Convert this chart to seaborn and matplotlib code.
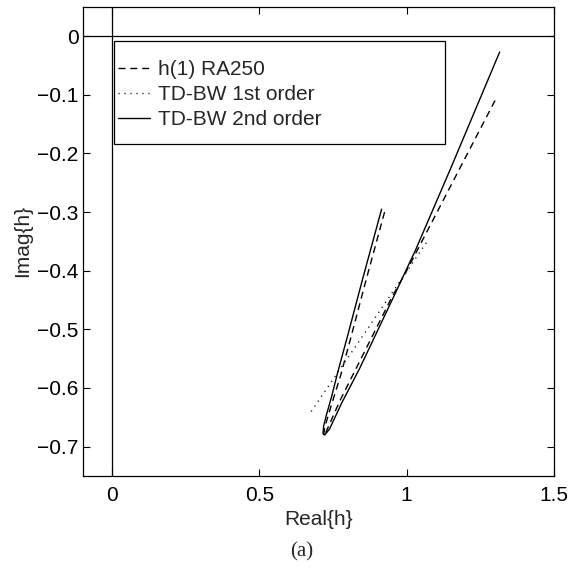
import matplotlib
import matplotlib.pyplot as plt
import numpy as np
import pandas as pd
import seaborn as sns
from matplotlib.patches import Rectangle

matplotlib.use('agg')

# h(1) RA250 (dashed): left branch down to the tip, then right branch up
ra250_real = [0.925, 0.86, 0.81, 0.775, 0.75, 0.733, 0.722, 0.718, 0.720,
              0.735, 0.775, 0.835, 0.95, 1.0, 1.15, 1.303]
ra250_imag = [-0.300, -0.420, -0.515, -0.580, -0.620, -0.648, -0.667, -0.680, -0.682,
              -0.665, -0.620, -0.560, -0.445, -0.400, -0.255, -0.107]

# TD-BW 1st order (dotted)
bw1_real = [0.676, 0.745, 0.85, 0.95, 1.07]
bw1_imag = [-0.640, -0.589, -0.512, -0.438, -0.350]

# TD-BW 2nd order (solid)
bw2_real = [0.915, 0.85, 0.80, 0.765, 0.745, 0.728, 0.718, 0.716, 0.722,
            0.738, 0.78, 0.84, 0.96, 1.03, 1.15, 1.316]
bw2_imag = [-0.295, -0.415, -0.510, -0.575, -0.615, -0.645, -0.665, -0.678, -0.680,
            -0.670, -0.625, -0.567, -0.440, -0.365, -0.225, -0.027]

labels = ['h(1) RA250', 'TD-BW 1st order', 'TD-BW 2nd order']
x_ticks = [0, 0.5, 1, 1.5]
y_ticks = [0, -0.1, -0.2, -0.3, -0.4, -0.5, -0.6, -0.7]

sns.set_theme(style="ticks")
plt.rcParams['font.family'] = ['Liberation Sans', 'DejaVu Sans']
plt.rcParams['axes.unicode_minus'] = True

fig = plt.figure(figsize=(5.83, 5.70), dpi=100)
ax = fig.add_axes([0.142, 0.165, 0.808, 0.823])

# reference axes through the origin
ax.axvline(0, color='black', lw=0.9, zorder=1)
ax.axhline(0, color='black', lw=0.9, zorder=1)

series = [
    (ra250_real, ra250_imag, (5, 3.5)),
    (bw1_real, bw1_imag, (0.8, 3.5)),
    (bw2_real, bw2_imag, None),
]
handles = []
for (xs, ys, dash), lab in zip(series, labels):
    df = pd.DataFrame({'real': xs, 'imag': ys})
    kw = {'dashes': dash} if dash else {'linestyle': '-'}
    sns.lineplot(data=df, x='real', y='imag', sort=False, estimator=None,
                 color='black', lw=1.0, ax=ax, **kw)
    handles.append(ax.lines[-1])

ax.set_xlim(-0.1, 1.5)
ax.set_ylim(-0.75, 0.05)
ax.set_xticks(x_ticks)
ax.set_xticklabels(['0', '0.5', '1', '1.5'])
ax.set_yticks(y_ticks)
ax.set_yticklabels(['0', '\u22120.1', '\u22120.2', '\u22120.3', '\u22120.4',
                    '\u22120.5', '\u22120.6', '\u22120.7'])
ax.tick_params(direction='in', top=True, right=True, length=5, width=0.8,
               labelsize=15, colors='black')
ax.tick_params(axis='x', pad=7)
ax.tick_params(axis='y', pad=3)
for s in ax.spines.values():
    s.set_color('black')
    s.set_linewidth(0.9)

ax.set_xlabel('Real{h}', fontsize=15, labelpad=4)
ax.set_ylabel('Imag{h}', fontsize=15, labelpad=4)

# legend box (MATLAB style: wide, with generous vertical padding)
ax.add_patch(Rectangle((0.066, 0.708), 0.703, 0.219, transform=ax.transAxes,
                       facecolor='white', edgecolor='black', lw=0.9, zorder=4))
leg = ax.legend(handles, labels, loc='upper left',
                bbox_to_anchor=(0.074, 0.887), borderaxespad=0, borderpad=0,
                fontsize=15, handlelength=1.55, handletextpad=0.4,
                labelspacing=0.3, frameon=False)
leg.set_zorder(5)

fig.text(0.518, 0.032, '(a)', ha='center', va='center', fontsize=15,
         family='Liberation Serif')

fig.savefig('out.png', dpi=100)
